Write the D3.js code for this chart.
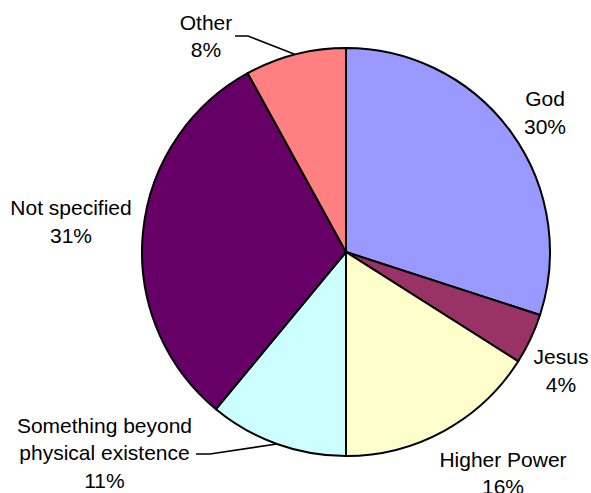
<!DOCTYPE html>
<html>
<head>
<meta charset="utf-8">
<script src="https://cdn.jsdelivr.net/npm/d3@7"></script>
<style>
  html, body { margin: 0; padding: 0; background: #fff; }
  svg { display: block; }
  text { font-family: "Liberation Sans", Arial, sans-serif; font-size: 21px; fill: #000; }
</style>
</head>
<body>
<svg id="chart" width="591" height="493"></svg>
<script>
// Categories and shares (percent), clockwise from 12 o'clock
const categories = ["God", "Jesus", "Higher Power", "Something beyond physical existence", "Not specified", "Other"];
const shares = [30, 4, 16, 11, 31, 8];
const colors = ["#9999FF", "#993366", "#FFFFCC", "#CCFFFF", "#660066", "#FF8080"];
const labelLines = [
  ["God"],
  ["Jesus"],
  ["Higher Power"],
  ["Something beyond", "physical existence"],
  ["Not specified"],
  ["Other"]
];

// Label placement: centre x, first baseline y, optional leader elbow / end
const labelLayout = [
  { x: 545, y: 106 },
  { x: 561, y: 364 },
  { x: 503, y: 466.5 },
  { x: 104.5, y: 432.5, elbow: [210, 454], end: [196, 454] },
  { x: 71, y: 215 },
  { x: 206, y: 29.5, elbow: [248, 36], end: [235, 36] }
];

const cx = 346, cy = 252, radius = 204, lineGap = 27.5;

const svg = d3.select("#chart");
const g = svg.append("g").attr("transform", `translate(${cx},${cy})`);

const pie = d3.pie().sort(null).value(d => d.value);
const arcs = pie(categories.map((c, i) => ({ name: c, value: shares[i], idx: i })));
const arc = d3.arc().innerRadius(0).outerRadius(radius);

g.selectAll("path.slice")
  .data(arcs)
  .join("path")
  .attr("class", "slice")
  .attr("d", arc)
  .attr("fill", d => colors[d.data.idx])
  .attr("stroke", "#000")
  .attr("stroke-width", 2)
  .attr("stroke-linejoin", "round");

// Leader lines from slice midpoint on the rim
arcs.forEach(d => {
  const L = labelLayout[d.data.idx];
  if (!L.elbow) return;
  const mid = (d.startAngle + d.endAngle) / 2;
  const px = cx + radius * Math.sin(mid);
  const py = cy - radius * Math.cos(mid);
  svg.append("polyline")
    .attr("points", [[px, py], L.elbow, L.end].map(p => p.join(",")).join(" "))
    .attr("fill", "none")
    .attr("stroke", "#000")
    .attr("stroke-width", 1.6);
});

// Labels: name lines followed by percentage
arcs.forEach(d => {
  const i = d.data.idx;
  const L = labelLayout[i];
  const lines = labelLines[i].concat([shares[i] + "%"]);
  const t = svg.append("text").attr("text-anchor", "middle");
  lines.forEach((s, k) => {
    t.append("tspan").attr("x", L.x).attr("y", L.y + k * lineGap).text(s);
  });
});
</script>
</body>
</html>
